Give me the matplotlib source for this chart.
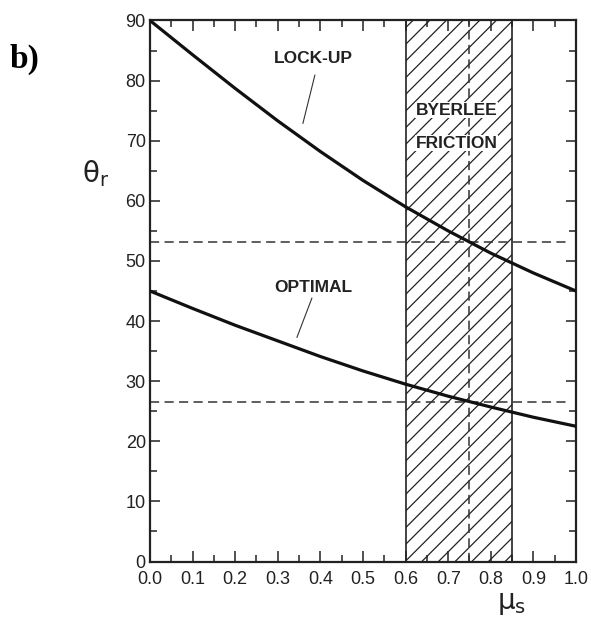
import matplotlib.pyplot as plt
from matplotlib.ticker import MultipleLocator

plt.rcParams['font.family'] = ['Liberation Sans', 'DejaVu Sans']
plt.rcParams['hatch.linewidth'] = 0.9

# values
mu_s = [0.0, 0.1, 0.2, 0.3, 0.4, 0.5, 0.6, 0.7, 0.8, 0.9, 1.0]
lockup = [90.0, 84.3, 78.7, 73.3, 68.2, 63.4, 59.0, 55.0, 51.3, 48.0, 45.0]
optimal = [45.0, 42.1, 39.3, 36.7, 34.1, 31.7, 29.5, 27.5, 25.7, 24.0, 22.5]
byerlee_range = [0.6, 0.85]
mu_ref = 0.75
theta_ref = [53.1, 26.6]
x_ticks = [0.0, 0.1, 0.2, 0.3, 0.4, 0.5, 0.6, 0.7, 0.8, 0.9, 1.0]
y_ticks = [0, 10, 20, 30, 40, 50, 60, 70, 80, 90]

fig = plt.figure(figsize=(5.91, 6.23), dpi=100)
ax = fig.add_axes([0.2538, 0.0987, 0.7208, 0.8684])

ax.axvspan(byerlee_range[0], byerlee_range[1], facecolor='white', edgecolor='#222222',
           hatch='//', linewidth=1.2, zorder=1)

for t in theta_ref:
    ax.plot([0.0, 0.98], [t, t], color='#333333', lw=1.1, ls=(0, (6, 3.5)), zorder=2)
ax.plot([mu_ref, mu_ref], [0, 90], color='#333333', lw=1.1, ls=(0, (6, 3.5)), zorder=2)

ax.plot(mu_s, lockup, color='#111111', lw=2.3, zorder=3)
ax.plot(mu_s, optimal, color='#111111', lw=2.3, zorder=3)

ax.set_xlim(0, 1.0)
ax.set_ylim(0, 90)
ax.set_xticks(x_ticks)
ax.set_xticklabels([f'{v:.1f}' for v in x_ticks])
ax.set_yticks(y_ticks)
ax.xaxis.set_minor_locator(MultipleLocator(0.05))
ax.yaxis.set_minor_locator(MultipleLocator(5))
ax.tick_params(which='both', direction='in', top=True, right=True, labelsize=13,
               color='#222222', labelcolor='#222222')
ax.tick_params(which='major', length=8, width=1.1)
ax.tick_params(which='minor', length=5, width=1.1)
ax.tick_params(axis='x', pad=7)
ax.tick_params(axis='y', which='major', length=7, pad=3)
for s in ax.spines.values():
    s.set_linewidth(1.6)
    s.set_color('#222222')

bold = dict(fontsize=12.5, fontweight='bold', color='#222222')
ax.text(0.383, 83.6, 'LOCK-UP', ha='center', va='center', **bold)
ax.plot([0.387, 0.359], [80.9, 72.9], color='#333333', lw=0.8)
ax.text(0.383, 45.5, 'OPTIMAL', ha='center', va='center', **bold)
ax.plot([0.380, 0.345], [43.8, 37.3], color='#333333', lw=0.8)
ax.text(0.72, 75.1, 'BYERLEE', ha='center', va='center', zorder=4,
        bbox=dict(facecolor='white', edgecolor='none', pad=0.5), **bold)
ax.text(0.72, 69.6, 'FRICTION', ha='center', va='center', zorder=4,
        bbox=dict(facecolor='white', edgecolor='none', pad=0.5), **bold)

fig.text(0.162, 0.722, r'$\mathrm{θ}_{\mathrm{r}}$', fontsize=20, ha='center', va='center',
         color='#222222', math_fontfamily='dejavusans')
fig.text(0.866, 0.031, r'$\mathrm{μ}_{\mathrm{s}}$', fontsize=20, ha='center', va='center',
         color='#222222', math_fontfamily='dejavusans')
fig.text(0.041, 0.905, 'b)', fontsize=24, fontweight='bold', ha='center', va='center',
         family='Liberation Serif')

fig.savefig('out.png', dpi=100)
